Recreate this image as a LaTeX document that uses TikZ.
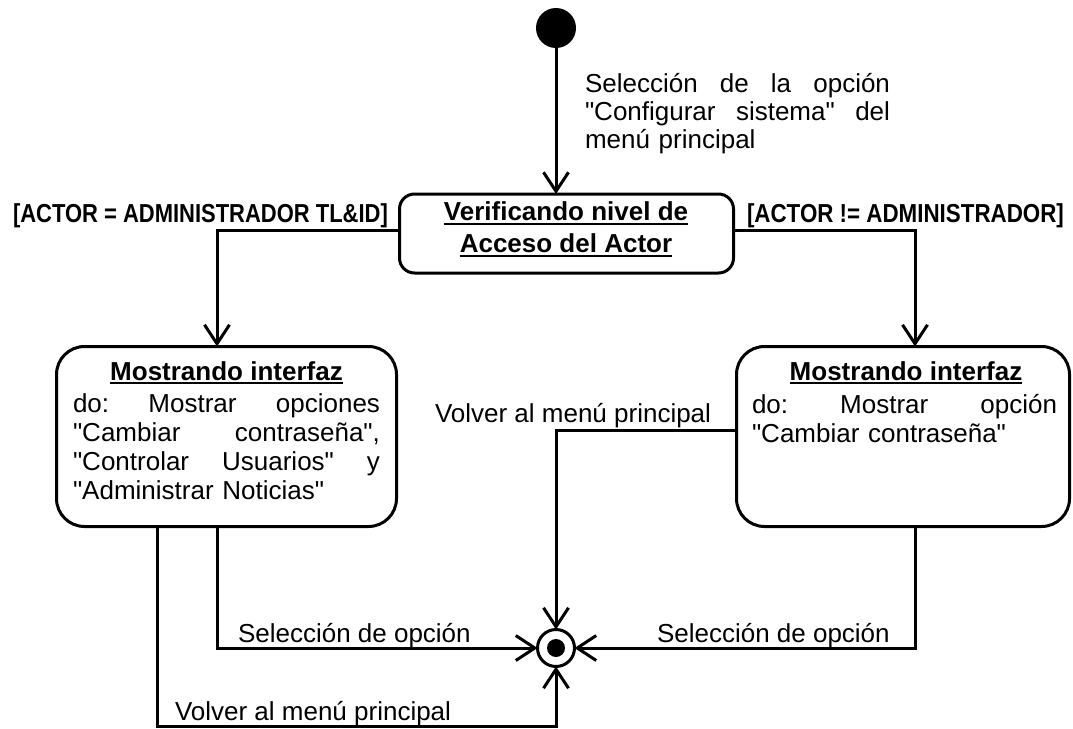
\documentclass[tikz,border=0pt]{standalone}
\usepackage{fontspec}
\setmainfont{Liberation Sans}[Ligatures=TeXOff]
\usetikzlibrary{arrows.meta}
\newcommand\uln[1]{\vtop{\hbox{#1}\kern1.8pt\hrule height 2.2pt}}
\begin{document}
\begin{tikzpicture}[x=1pt,y=-1pt,
  every node/.style={inner sep=0pt, outer sep=0pt},
  ln/.style={line width=3pt},
  arr/.style={ln, -{Straight Barb[length=19pt,width=25pt]}},
  statebox/.style={draw, line width=3pt, rounded corners=#1},
  txt/.style={font=\fontsize{26}{29}\selectfont},
  btxt/.style={font=\fontsize{26}{29}\selectfont\bfseries},
]
\useasboundingbox[fill=white] (0,0) rectangle (1073,728);

% states
\node[circle, fill=black, minimum size=40pt] (init) at (556,28) {};
\node[statebox=15pt, minimum width=334pt, minimum height=79pt] (top) at (566.5,233.5) {};
\node[btxt, align=center, anchor=north] (toptxt) at (566,202) {\uln{Verificando nivel de}\\[3pt]\uln{Acceso del Actor}};

\node[statebox=28pt, minimum width=340pt, minimum height=180pt] (lbox) at (226.5,436.5) {};
\node[btxt, anchor=base] (ltitle) at (226.5,380) {\uln{Mostrando interfaz}};
\node[txt, anchor=north west, text width=307pt, align=left] (lbody) at (73,394) {\makebox[307pt]{do:\hfill Mostrar\hfill opciones}\\\makebox[307pt]{"Cambiar\hfill contraseña",}\\\makebox[307pt]{"Controlar\hfill Usuarios"\hfill y}\\"Administrar Noticias"};

\node[statebox=28pt, minimum width=333pt, minimum height=180pt] (rbox) at (903,436.5) {};
\node[btxt, anchor=base] (rtitle) at (906,380) {\uln{Mostrando interfaz}};
\node[txt, anchor=north west, text width=305pt, align=left] (rbody) at (752,394) {\makebox[305pt]{do:\hfill Mostrar\hfill opción}\\"Cambiar contraseña"};

\node[circle, draw, line width=3pt, minimum size=37pt] (final) at (556,648) {};
\fill (final.center) circle[radius=9pt];

% labels
\node[font=\fontsize{26}{28}\selectfont, anchor=north west, text width=305pt, align=left] (lab0) at (585,73) {\makebox[305pt]{Selección\hfill de\hfill la\hfill opción}\\\makebox[305pt]{"Configurar\hfill sistema"\hfill del}\\menú principal};
\node[btxt, anchor=base west] (g1) at (13,222) {\scalebox{0.845}[1]{[ACTOR = ADMINISTRADOR TL\&ID]}};
\node[btxt, anchor=base west] (g2) at (747,222) {\scalebox{0.86}[1]{[ACTOR != ADMINISTRADOR]}};
\node[txt, anchor=base west] (l1) at (435,422) {Volver al menú principal};
\node[txt, anchor=base west] (l2) at (238,642) {Selección de opción};
\node[txt, anchor=base west] (l3) at (657,642) {Selección de opción};
\node[txt, anchor=base west] (l4) at (175,720) {Volver al menú principal};

% transitions
\draw[arr] (init) -- (init |- top.north);
\draw[arr] ([yshift=3.5pt]top.west) -| ([xshift=-9.5pt]lbox.north);
\draw[arr] ([yshift=3.5pt]top.east) -| ([xshift=12pt]rbox.north);
\draw[arr] ([xshift=-9.5pt]lbox.south) |- (final.west);
\draw[arr] ([xshift=12pt]rbox.south) |- (final.east);
\draw[arr] ([yshift=6.5pt]rbox.west) -| (final.north);
\coordinate (vb) at (556,726);
\draw[arr] ([xshift=-69.5pt]lbox.south) |- (vb) -- (final.south);
\end{tikzpicture}
\end{document}
